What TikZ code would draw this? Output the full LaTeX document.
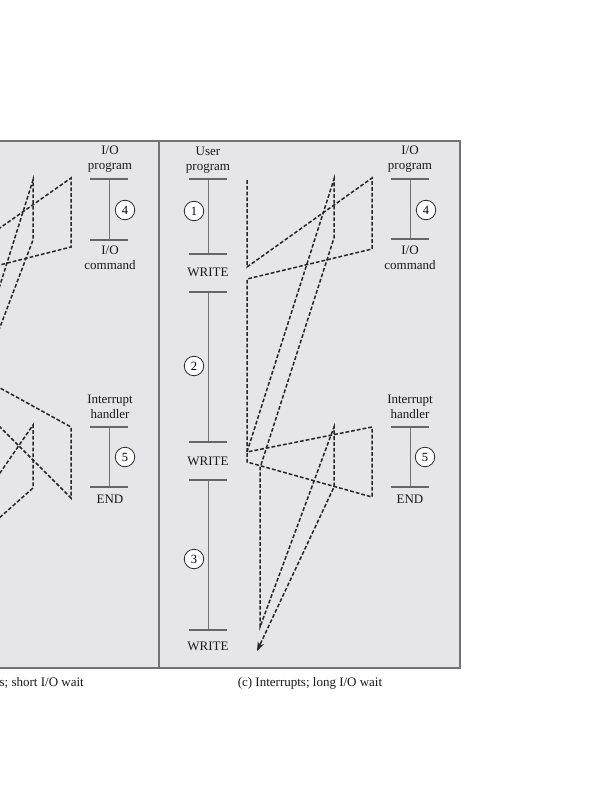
\documentclass[tikz,border=0pt]{standalone}
\usepackage{fontspec}
\setmainfont{Liberation Serif}
\usetikzlibrary{arrows.meta}
\definecolor{panelbg}{HTML}{E6E6E8}
\begin{document}
\begin{tikzpicture}[x=1pt,y=-1pt,
  lbl/.style={font=\fontsize{13}{14.5}\selectfont, align=center, inner sep=0pt, text=black!90},
  num/.style={circle, draw=black!85, fill=white, line width=0.8pt, minimum size=19.5pt, inner sep=0pt, font=\fontsize{12.5}{12.5}\selectfont},
  tickline/.style={draw=black!60, line width=1.2pt},
  barline/.style={draw=black!55, line width=1pt},
  flow/.style={draw=black!85, line width=1.5pt, dash pattern=on 3.8pt off 2pt},
  tipline/.style={draw=black!85, line width=1.5pt, -{Stealth[length=9pt,width=6.5pt]}},
  panel/.style={fill=panelbg, draw=black!55, line width=1.2pt}]
\useasboundingbox (0,0) rectangle (604,800);
\clip (0,0) rectangle (604,800);
\fill[white] (0,0) rectangle (604,800);
% panels
\draw[panel] (-150,141) rectangle (159,668);
\draw[panel] (159,141) rectangle (460,668);
% code bars
\foreach \n/\x/\a/\b in {ua/208/179/254, ub/208/292/442, uc/208/480/630, io/410/179/239, ih/410/427/487, lio/109/179/240, lih/109/427/487} {
  \coordinate (\n-t) at (\x,\a);
  \coordinate (\n-b) at (\x,\b);
  \draw[barline] (\n-t) -- (\n-b);
  \draw[tickline] ([xshift=-19pt]\n-t) -- ([xshift=19pt]\n-t);
  \draw[tickline] ([xshift=-19pt]\n-b) -- ([xshift=19pt]\n-b);
}
% labels right panel
\node[lbl] (tuser) at (208,160) {User\\program};
\node[lbl] (tw1) at (208,272) {WRITE};
\node[lbl] (tw2) at (208,461) {WRITE};
\node[lbl] (tw3) at (208,646) {WRITE};
\node[lbl] (tiop) at (410,159) {I/O\\program};
\node[lbl] (tioc) at (410,258) {I/O\\command};
\node[lbl] (tih) at (410,407) {Interrupt\\handler};
\node[lbl] (tend) at (410,499) {END};
% labels left panel
\node[lbl] (ltiop) at (110,159) {I/O\\program};
\node[lbl] (ltioc) at (110,258) {I/O\\command};
\node[lbl] (ltih) at (110,407) {Interrupt\\handler};
\node[lbl] (ltend) at (110,499) {END};
% circles
\node[num] (c1) at (194,211) {1};
\node[num] (c2) at (194,366) {2};
\node[num] (c3) at (194,559) {3};
\node[num] (c4) at (426,210) {4};
\node[num] (c5) at (425,457) {5};
\node[num] (lc4) at (125,210) {4};
\node[num] (lc5) at (125,457) {5};
% captions
\node[lbl] (capc) at (310,683) {(c) Interrupts; long I/O wait};
\node[lbl, anchor=east] (capb) at (84,683) {(b) Interrupts; short I/O wait};
% right panel flow
\coordinate (a1) at (247,180);
\coordinate (a2) at (247,267);
\coordinate (a3) at (372,178);
\coordinate (a4) at (372,249);
\coordinate (a5) at (247,279);
\coordinate (a6) at (247,452);
\coordinate (a7) at (372,427);
\coordinate (a8) at (372,497);
\coordinate (a9) at (247,462);
\draw[flow] (a1) -- (a2) -- (a3) -- (a4) -- (a5) -- (a6) -- (a7) -- (a8) -- (a9) -- (a6);
\coordinate (b1) at (334,179);
\coordinate (b2) at (334,238);
\coordinate (b3) at (260,468);
\coordinate (b4) at (260,627);
\coordinate (b5) at (334,427);
\coordinate (b6) at (334,487);
\coordinate (b7) at (257,651);
\coordinate (b8) at (260.5,643.5);
\draw[flow] (a6) -- (b1) -- (b2) -- (b3) -- (b4) -- (b5) -- (b6) -- (b7);
\draw[tipline] (b8) -- (b7);
% left panel flow (partly outside)
\coordinate (p1) at (-40,256);
\coordinate (p2) at (71,178);
\coordinate (p3) at (71,247);
\coordinate (p4) at (-40,275);
\draw[flow] (p1) -- (p2) -- (p3) -- (p4);
\coordinate (q1) at (-20,349);
\coordinate (q2) at (33,180);
\coordinate (q3) at (33,240);
\coordinate (q4) at (-20,380);
\draw[flow] (q1) -- (q2) -- (q3) -- (q4);
\coordinate (r1) at (-40,366);
\coordinate (r2) at (71,427);
\coordinate (r3) at (71,498);
\coordinate (r4) at (-40,387);
\draw[flow] (r1) -- (r2) -- (r3) -- (r4);
\coordinate (s1) at (-20,502);
\coordinate (s2) at (33,425);
\coordinate (s3) at (33,488);
\coordinate (s4) at (-20,535);
\draw[flow] (s1) -- (s2) -- (s3) -- (s4);
\end{tikzpicture}
\end{document}
